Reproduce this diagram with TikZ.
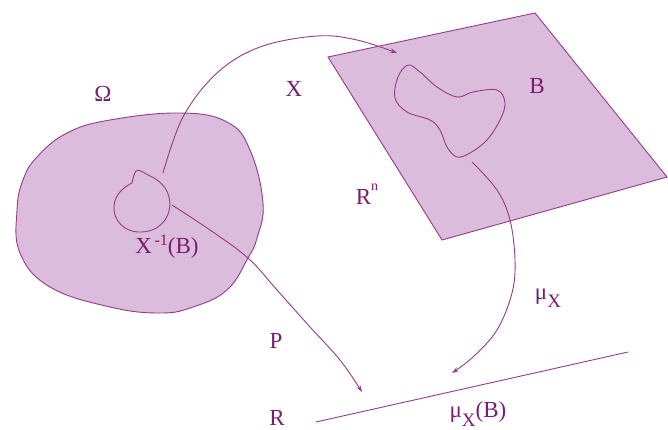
\documentclass[tikz,border=0pt]{standalone}
\usepackage{fontspec}
\setmainfont{Liberation Serif}
\usetikzlibrary{arrows.meta}
\definecolor{regfill}{RGB}{220,188,220}
\definecolor{regline}{RGB}{145,60,135}
\definecolor{labtext}{RGB}{120,30,110}
\newcommand\muX{μ\raisebox{-0.35em}{\fontsize{19}{19}\selectfont X}}
\begin{document}
\begin{tikzpicture}[x=1pt,y=-1pt,
  region/.style={fill=regfill,draw=regline,line width=0.9pt},
  subset/.style={draw=regline,line width=0.9pt},
  edge/.style={draw=regline,line width=0.9pt},
  arr/.style={edge,-{Stealth[length=7pt,width=4.5pt]}},
  lab/.style={text=labtext,font=\fontsize{23}{23}\selectfont,inner sep=0pt}]
\useasboundingbox (0,0) rectangle (668,430);
% Omega
\draw[region] plot[smooth cycle,tension=0.7] coordinates {
  (17,210) (23,180) (37,157) (67,133) (110,120) (180,113) (227,122)
  (250,150) (263,203) (257,238) (248,258) (227,290) (193,307) (160,313)
  (110,307) (50,287) (20,253)};
% R^n plane
\coordinate (p1) at (328,57);
\coordinate (p2) at (535,13);
\coordinate (p3) at (667,177);
\coordinate (p4) at (442,240);
\draw[region] (p1) -- (p2) -- (p3) -- (p4) -- cycle;
% X^{-1}(B)
\draw[subset] (132,183) .. controls (133,178) and (134,174) .. (136,171)
  .. controls (139,169) and (143,172) .. (146,174)
  .. controls (155,178) and (166,184) .. (169,197)
  .. controls (173,213) and (163,231) .. (142,232)
  .. controls (124,233) and (113,220) .. (114,206)
  .. controls (115,194) and (124,187) .. (132,183) -- cycle;
% B
\draw[subset] plot[smooth cycle,tension=0.6] coordinates {
  (408,65) (420,72) (437,87) (457,97) (473,92) (497,90) (505,103)
  (500,120) (487,140) (470,153) (457,157) (447,147) (440,130) (430,120)
  (407,112) (395,98) (398,77)};
% R line
\coordinate (r1) at (316,422);
\coordinate (r2) at (628,352);
\draw[edge] (r1) -- (r2);
% arrows
\coordinate (xs) at (163,173);
\coordinate (xe) at (397,53);
\draw[arr] plot[smooth,tension=0.6] coordinates {
  (xs) (183,117) (217,73) (260,47) (317,36) (357,40) (xe)};
\coordinate (ms) at (472,162);
\coordinate (me) at (452,373);
\draw[arr] plot[smooth,tension=0.6] coordinates {
  (ms) (497,190) (510,220) (515,260) (512,293) (497,330) (473,357) (me)};
\coordinate (ps) at (172,205);
\coordinate (pe) at (362,392);
\draw[arr] plot[smooth,tension=0.6] coordinates {
  (ps) (210,230) (248,258) (277,290) (310,327) (340,360) (pe)};
% labels
\node[lab] (lomega) at (103,94) {Ω};
\node[lab] (lx) at (294,89) {X};
\node[lab] (lb) at (537,86) {B};
\node[lab] (lrn) at (367,194) {R\raisebox{0.6em}{\fontsize{14}{14}\selectfont n}};
\node[lab] (lxinv) at (167,247) {X\raisebox{0.35em}{\fontsize{16}{16}\selectfont\,-1}(B)};
\node[lab] (lmu) at (548,298) {\muX};
\node[lab] (lp) at (276,341) {P};
\node[lab] (lr) at (277,418) {R};
\node[lab] (lmub) at (478,414) {\muX(B)};
\end{tikzpicture}
\end{document}
